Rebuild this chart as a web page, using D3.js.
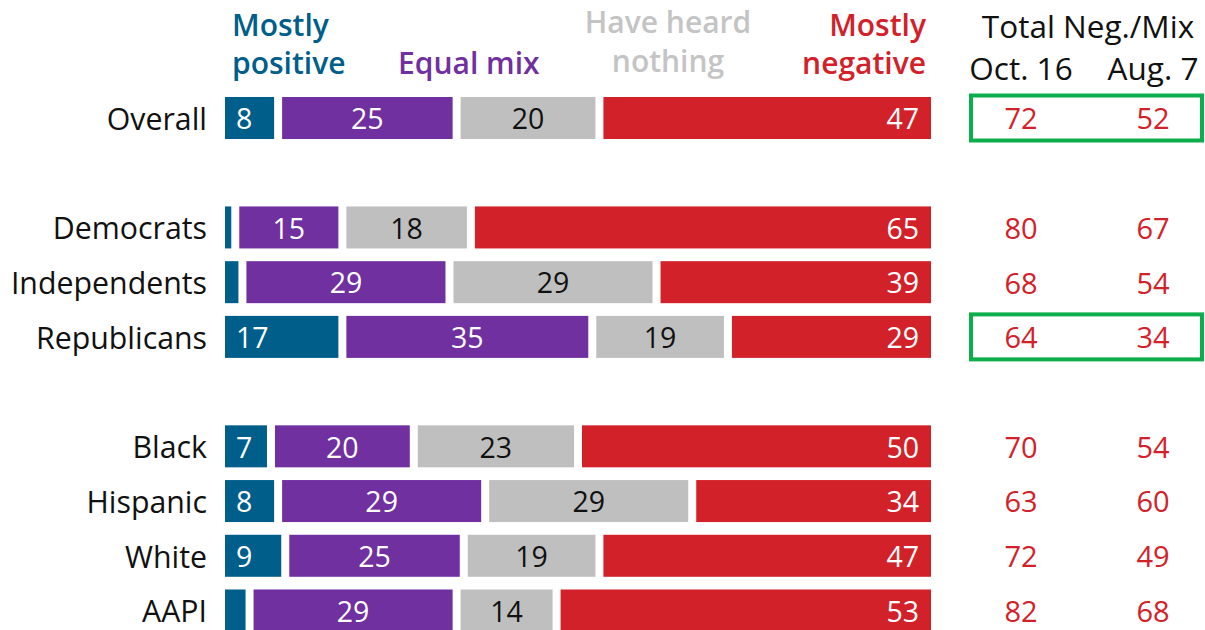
<!DOCTYPE html>
<html><head><meta charset="utf-8">
<script src="https://cdn.jsdelivr.net/npm/d3@7"></script>
<style>body{margin:0;background:#fff}svg{display:block;font-family:"Open Sans",Lato,sans-serif}</style>
</head><body><svg id="c" width="1205" height="630"></svg>
<script>
const categories = ["Overall","Democrats","Independents","Republicans","Black","Hispanic","White","AAPI"];
const rowSlots = [0,2,3,4,6,7,8,9];
const seriesNames = ["Mostly positive","Equal mix","Have heard nothing","Mostly negative"];
const mostlyPositive = [8,2,3,17,7,8,9,4];
const equalMix = [25,15,29,35,20,29,25,29];
const heardNothing = [20,18,29,19,23,29,19,14];
const mostlyNegative = [47,65,39,29,50,34,47,53];
const showLabel = [true,false,false,true,true,true,true,false];
const oct16 = [72,80,68,64,70,63,72,82];
const aug7 = [52,67,54,34,54,60,49,68];
const highlighted = ["Overall","Republicans"];

const colors = ["#005e8a","#7030a0","#bfbfbf","#d3212a"];
const headColors = ["#005e8a","#7030a0","#c4c4c4","#d3212a"];
const textColors = ["#fff","#fff","#111","#fff"];
const svg = d3.select("#c");
const x = d3.scaleLinear().domain([0,100]).range([225,939]);
const y = d3.scaleLinear().domain([0,9]).range([118,610.5]);
const gap = 8, barH = 42;
const series = [mostlyPositive,equalMix,heardNothing,mostlyNegative];

categories.forEach((c,i)=>{
  const cy = y(rowSlots[i]);
  svg.append("text").attr("x",207).attr("y",cy+1).attr("dy","0.36em").attr("text-anchor","end")
    .attr("font-size",30.3).attr("fill","#111").text(c);
  let start = 0;
  series.forEach((s,k)=>{
    const v = s[i];
    const x0 = x(start), x1 = x(start+v)-gap;
    svg.append("rect").attr("x",x0).attr("y",cy-barH/2).attr("width",x1-x0).attr("height",barH).attr("fill",colors[k]);
    if(k>0 || showLabel[i]){
      const t = svg.append("text").attr("y",cy+1).attr("dy","0.36em").attr("font-size",28.5).attr("fill",textColors[k]).text(v);
      if(k===0) t.attr("x",x0+11).attr("text-anchor","start");
      else if(k===3) t.attr("x",x1-12).attr("text-anchor","end");
      else t.attr("x",(x0+x1)/2).attr("text-anchor","middle");
    }
    start += v;
  });
  svg.append("text").attr("x",1021).attr("y",cy+1).attr("dy","0.36em").attr("text-anchor","middle").attr("font-size",29).attr("fill","#d3212a").text(oct16[i]);
  svg.append("text").attr("x",1153).attr("y",cy+1).attr("dy","0.36em").attr("text-anchor","middle").attr("font-size",29).attr("fill","#d3212a").text(aug7[i]);
  if(highlighted.includes(c)){
    svg.append("rect").attr("x",971).attr("y",cy-22.5).attr("width",231).attr("height",45)
      .attr("fill","none").attr("stroke","#0bae4b").attr("stroke-width",4);
  }
});

// headers
function head(lines, xp, ys, anchor, color, weight, size){
  lines.forEach((l,j)=>svg.append("text").attr("x",xp).attr("y",ys[j]).attr("text-anchor",anchor)
    .attr("font-size",size).attr("font-weight",weight).attr("fill",color).text(l));
}
head(["Mostly","positive"],232,[36,74],"start",headColors[0],"600",30);
head(["Equal mix"],398,[74],"start",headColors[1],"600",30);
head(["Have heard","nothing"],668,[33,72],"middle",headColors[2],"600",30);
head(["Mostly","negative"],926,[36,74],"end",headColors[3],"600",30);
head(["Total Neg./Mix"],1088,[38],"middle","#111","normal",31.5);
head(["Oct. 16"],1021,[80],"middle","#111","normal",31.5);
head(["Aug. 7"],1153,[80],"middle","#111","normal",31.5);
</script></body></html>
